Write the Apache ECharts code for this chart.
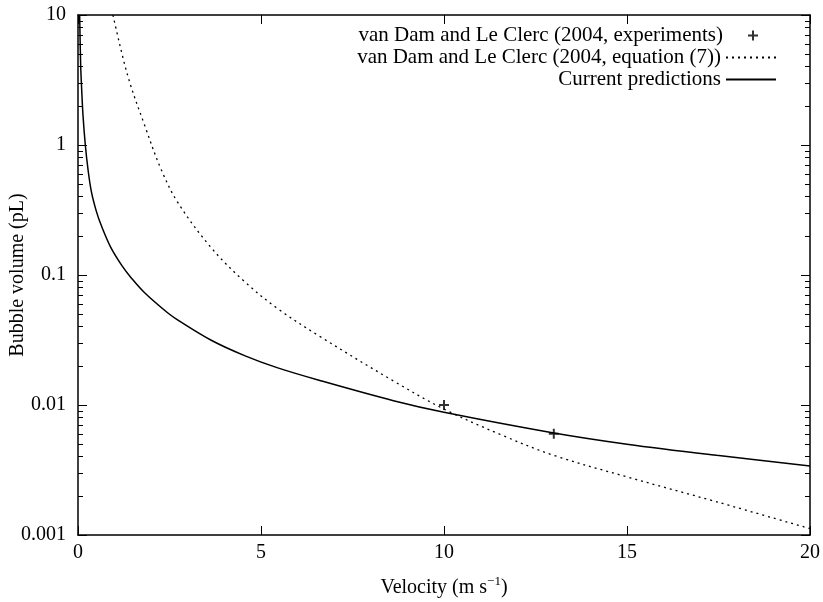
<!DOCTYPE html>
<html>
<head>
<meta charset="utf-8">
<script src="https://cdn.jsdelivr.net/npm/echarts@6/dist/echarts.min.js"></script>
<style>
html,body{margin:0;padding:0;background:#fff;}
#chart{width:823px;height:602px;}
</style>
</head>
<body>
<div id="chart"></div>
<script>
// ---- data ----
const predVelocity = [0.045, 0.073, 0.1, 0.136, 0.2, 0.27, 0.364, 0.5, 0.637, 0.91, 1.2, 1.455, 1.82, 2.456, 2.73, 3.64, 4.55, 5.458, 6.66, 8.62, 10, 13, 15, 17.45, 20];
const predVolume   = [10, 4.1, 2.7, 1.7, 1.0, 0.66, 0.44, 0.31, 0.24, 0.16, 0.118, 0.095, 0.073, 0.051, 0.045, 0.0315, 0.0240, 0.0193, 0.0153, 0.0108, 0.0088, 0.0061, 0.0050, 0.0041, 0.0034];

const eqVelocity = [0.955, 1.36, 1.82, 2.27, 2.73, 3.64, 4.55, 5.46, 6.66, 8.62, 10, 11.56, 13, 15, 17.45, 20];
const eqVolume   = [10, 3.4, 1.42, 0.65, 0.36, 0.162, 0.089, 0.055, 0.0330, 0.0153, 0.0093, 0.0059, 0.0041, 0.0028, 0.0018, 0.00112];

const expVelocity = [10, 13];
const expVolume   = [0.01, 0.006];

const xTickValues = [0, 5, 10, 15, 20];
const yTickValues = [0.001, 0.01, 0.1, 1, 10];
const yTickLabels = ['0.001', '0.01', '0.1', '1', '10'];
const yMinorTicks = [];
[0.001, 0.01, 0.1, 1].forEach(function (d) {
  [2, 3, 4, 5, 6, 7, 8, 9].forEach(function (m) { yMinorTicks.push(+(d * m).toPrecision(3)); });
});

const seriesNames = [
  'van Dam and Le Clerc (2004, experiments)',
  'van Dam and Le Clerc (2004, equation (7))',
  'Current predictions'
];

function zip(a, b) { return a.map(function (v, i) { return [v, b[i]]; }); }

const FONT = 'Liberation Serif';
const plusPath = 'path://M4,0H6V4H10V6H6V10H4V6H0V4H4Z';

const chart = echarts.init(document.getElementById('chart'), null, {renderer: 'canvas'});

function yAx(pos, major, labels) {
  return {
    type: 'log', logBase: 10, min: 0.001, max: 10, position: pos,
    axisLine: {show: major, lineStyle: {color: '#000', width: 1.5}},
    splitLine: {show: false},
    axisTick: major
      ? {show: true, inside: true, length: 9, lineStyle: {color: '#000', width: 1}, customValues: yTickValues}
      : {show: true, inside: true, length: 5, lineStyle: {color: '#000', width: 1}, customValues: yMinorTicks},
    axisLabel: labels ? {
      show: true, margin: 12, color: '#000', fontFamily: FONT, fontSize: 20,
      customValues: yTickValues,
      formatter: function (v) {
        for (let i = 0; i < yTickValues.length; i++) {
          if (Math.abs(Math.log10(v) - Math.log10(yTickValues[i])) < 1e-6) return yTickLabels[i];
        }
        return '';
      }
    } : {show: false},
    name: labels ? 'Bubble volume (pL)' : '',
    nameLocation: 'middle', nameGap: 50, nameRotate: 90, nameMoveOverlap: false,
    nameTextStyle: {color: '#000', fontFamily: FONT, fontSize: 20}
  };
}

function xAx(pos, labels) {
  return {
    type: 'value', min: 0, max: 20, interval: 5, position: pos,
    axisLine: {show: true, onZero: false, lineStyle: {color: '#000', width: 1.5}},
    splitLine: {show: false},
    axisTick: {show: true, inside: true, length: 9, lineStyle: {color: '#000', width: 1}, customValues: xTickValues},
    axisLabel: labels ? {show: true, margin: 8, color: '#000', fontFamily: FONT, fontSize: 20, customValues: xTickValues} : {show: false},
    name: labels ? 'Velocity (m s{sup|−1})' : '',
    nameLocation: 'middle', nameGap: 40, nameMoveOverlap: false,
    nameTextStyle: {
      color: '#000', fontFamily: FONT, fontSize: 20,
      rich: {sup: {fontFamily: FONT, fontSize: 13, verticalAlign: 'top', padding: [0, 0, 12, 0], color: '#000'}}
    }
  };
}

function legendFor(name, top, right, isLine) {
  const l = {
    data: [name], right: right, top: top, orient: 'vertical', align: 'right',
    itemWidth: 50, itemHeight: 10, padding: 0, selectedMode: false,
    textStyle: {color: '#000', fontFamily: FONT, fontSize: 21}
  };
  if (isLine) l.itemStyle = {opacity: 0};
  return l;
}

chart.setOption({
  animation: false,
  backgroundColor: '#fff',
  grid: {left: 78, right: 13, top: 15, bottom: 67, containLabel: false, outerBoundsMode: 'none'},
  legend: [
    legendFor(seriesNames[0], 25, 65, false),
    legendFor(seriesNames[1], 47, 46, true),
    legendFor(seriesNames[2], 69, 46, true)
  ],
  xAxis: [xAx('bottom', true), xAx('top', false)],
  yAxis: [yAx('left', true, true), yAx('left', false, false), yAx('right', true, false), yAx('right', false, false)],
  series: [
    {
      name: seriesNames[0], type: 'scatter', data: zip(expVelocity, expVolume),
      symbol: plusPath, symbolSize: 10, itemStyle: {color: '#000'}, z: 5
    },
    {
      name: seriesNames[1], type: 'line', data: zip(eqVelocity, eqVolume),
      showSymbol: false, symbol: 'none', smooth: 0.35, clip: true,
      lineStyle: {color: '#000', width: 1.3, type: [2, 4]}, itemStyle: {color: '#000'}
    },
    {
      name: seriesNames[2], type: 'line', data: zip(predVelocity, predVolume),
      showSymbol: false, symbol: 'none', smooth: 0.35, clip: true,
      lineStyle: {color: '#000', width: 1.5, type: 'solid'}, itemStyle: {color: '#000'}
    }
  ]
});
</script>
</body>
</html>
